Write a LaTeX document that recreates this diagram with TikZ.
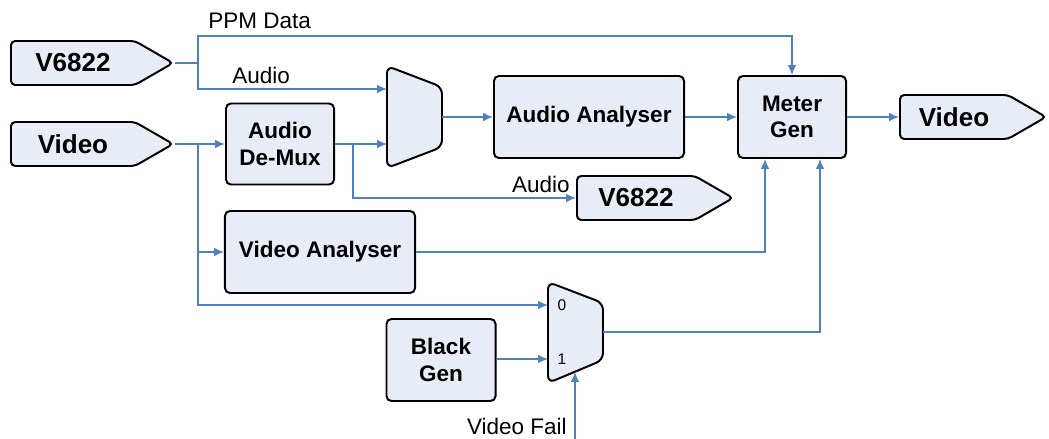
\documentclass[tikz,border=0pt]{standalone}
\usepackage{fontspec}
\setmainfont{Liberation Sans}
\usepackage{xcolor}
\usetikzlibrary{shapes.symbols,arrows.meta,positioning}

\definecolor{boxfill}{RGB}{232,236,247}
\definecolor{wire}{RGB}{79,129,189}

\begin{document}
\begin{tikzpicture}[
    x=0.025cm, y=-0.025cm,
    box/.style={rectangle, draw, line width=1.4pt, rounded corners=3.5pt, fill=boxfill, align=center, font=\bfseries\fontsize{16}{19}\selectfont},
    iotag/.style={signal, signal to=east, signal pointer angle=60, draw, line width=1.4pt, rounded corners=3pt, fill=boxfill, minimum height=1.1cm, font=\bfseries\fontsize{18.5}{22}\selectfont},
    muxbox/.style={draw, line width=1.4pt, rounded corners=5pt, fill=boxfill},
    arrow/.style={-{Latex[length=7pt,width=6pt]}, wire, line width=0.8pt},
    lbl/.style={font=\fontsize{16}{19}\selectfont, inner sep=0pt},
    port/.style={font=\fontsize{11}{13}\selectfont, inner sep=0pt}
]
\useasboundingbox (0,0) rectangle (1049,439);

% inputs and outputs
\node[iotag, minimum width=4.05cm, anchor=west] (ppmin) at (10,63) {V6822};
\node[iotag, minimum width=4.05cm, anchor=west] (vidin) at (10,144) {Video};
\node[iotag, minimum width=3.65cm, anchor=west] (vidout) at (899,117) {Video};
\node[iotag, minimum width=3.9cm, anchor=west] (audout) at (576,198) {V6822};

% blocks
\node[box, minimum width=2.7cm, minimum height=2.025cm] (demux) at (280,144) {Audio\\De-Mux};
\node[box, minimum width=4.75cm, minimum height=2.05cm] (aanal) at (589,117) {Audio Analyser};
\node[box, minimum width=2.7cm, minimum height=2.05cm] (meter) at (792,117) {Meter\\Gen};
\node[box, minimum width=4.75cm, minimum height=2.05cm] (vanal) at (320,252) {Video Analyser};
\node[box, minimum width=2.725cm, minimum height=2.05cm] (black) at (441,360) {Black\\Gen};

% muxes
\draw[muxbox] (387,66) -- (442,87) -- (442,147) -- (387,168) -- cycle;
\coordinate (amux in1) at (387,89);
\coordinate (amux in2) at (387,144);
\coordinate (amux out) at (442,117);

\draw[muxbox] (548,282) -- (603,303) -- (603,360) -- (548,383) -- cycle;
\coordinate (vmux in0) at (548,305);
\coordinate (vmux in1) at (548,359);
\coordinate (vmux out) at (603,332);
\coordinate (vmux sel) at (575,372);
\node[port] (zero) at (562,305) {0};
\node[port] (one) at (562,359) {1};

% split points
\coordinate (ppmsplit) at (198,63);
\coordinate (vidsplit) at (198,144);
\coordinate (audsplit) at (353,144);
\coordinate (vfail) at (575,439);

% connectors
\draw[arrow] (ppmin.east) -- (ppmsplit) |- (198,36) -| (meter.north);
\draw[arrow] (ppmsplit) |- (amux in1);
\draw[arrow] (vidin.east) -- (demux.west);
\draw[arrow] (vidsplit) |- (vanal.west);
\draw[arrow] (vidsplit) |- (vmux in0);
\draw[arrow] (demux.east) -- (amux in2);
\draw[arrow] (audsplit) |- (audout.west);
\draw[arrow] (amux out) -- (aanal.west);
\draw[arrow] (aanal.east) -- (meter.west);
\draw[arrow] (meter.east) -- (vidout.west);
\draw[arrow] (vanal.east) -| ([xshift=-0.675cm]meter.south);
\draw[arrow] (vmux out) -| ([xshift=0.7cm]meter.south);
\draw[arrow] (black.east |- vmux in1) -- (vmux in1);
\draw[arrow] (vfail) -- (vmux sel);

% labels
\node[lbl, anchor=west] (ppmlbl) at (208,21) {PPM Data};
\node[lbl, anchor=west] (audlbl1) at (232,75) {Audio};
\node[lbl, anchor=east] (audlbl2) at (570,184) {Audio};
\node[lbl, anchor=east] (faillbl) at (567,426) {Video Fail};
\end{tikzpicture}
\end{document}
